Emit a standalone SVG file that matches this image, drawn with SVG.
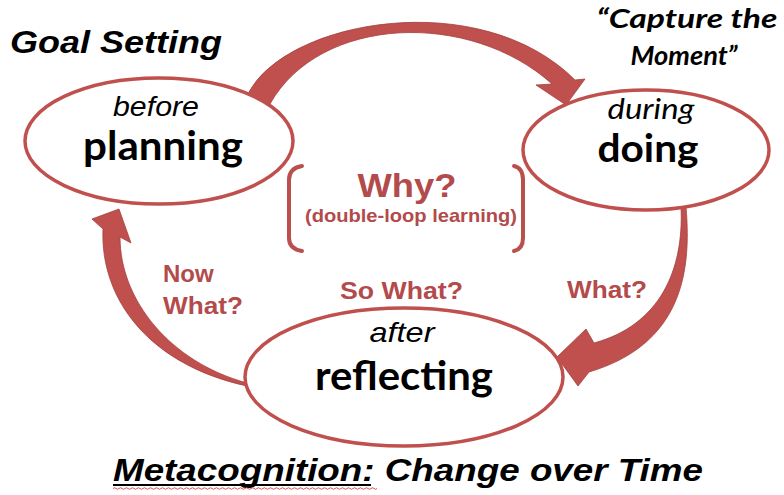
<svg xmlns="http://www.w3.org/2000/svg" width="784" height="495" viewBox="0 0 784 495">
  <style>
    .stage { fill: #ffffff; stroke: #c0504d; stroke-width: 3.5; }
    .arrow { fill: #c0504d; stroke: #a4403f; stroke-width: 0.8; stroke-linejoin: round; }
    .bracket { fill: none; stroke: #b9504e; stroke-width: 4; stroke-linecap: round; }
    .title { font-family: "Liberation Sans", Arial, sans-serif; font-weight: bold; font-style: italic; fill: #000; }
    .when { font-family: "Liberation Sans", Arial, sans-serif; font-style: italic; fill: #000; font-size: 28px; text-anchor: middle; }
    .when2 { font-family: Lato, "Noto Sans", sans-serif; font-style: italic; fill: #000; font-size: 28px; text-anchor: middle; }
    .act { font-family: Lato, "Noto Sans", sans-serif; font-weight: bold; fill: #000; text-anchor: middle; }
    .ask { font-family: "Liberation Sans", Arial, sans-serif; font-weight: bold; fill: #b34a4b; }
    .quote { font-family: Lato, "Noto Sans", sans-serif; font-weight: bold; font-style: italic; fill: #000; font-size: 26px; text-anchor: middle; }
  </style>

  <rect width="784" height="495" fill="#ffffff"/>

  <!-- connectors: curved block arrows between the three stages -->
  <g id="connectors">
    <!-- planning -> doing -->
    <path class="arrow" d="M 248 94 C 285 20, 480 -15, 575 80 L 585 79 L 566 105 L 536 85 L 552 84 C 470 10, 320 15, 270 104 Z"/>
    <!-- doing -> reflecting -->
    <path class="arrow" d="M 686 207 C 692 275, 680 345, 589 372 L 578 386 L 557 357 L 586 329 L 594 343 C 660 325, 684 270, 681 207 Z"/>
    <!-- reflecting -> planning -->
    <path class="arrow" d="M 247 386 C 150 365, 100 300, 103 229 L 92 219 L 119 209 L 131 243 L 120 237 C 120 300, 170 362, 247 383 Z"/>
  </g>

  <!-- stage nodes -->
  <g id="planning">
    <ellipse class="stage" cx="159" cy="141" rx="134" ry="63"/>
    <text class="when" x="156" y="116" textLength="86" lengthAdjust="spacingAndGlyphs">before</text>
    <text class="act" x="163" y="160" font-size="40" textLength="160" lengthAdjust="spacingAndGlyphs">planning</text>
  </g>

  <g id="doing">
    <ellipse class="stage" cx="646" cy="150" rx="123" ry="60"/>
    <text class="when2" x="651" y="119" textLength="87" lengthAdjust="spacingAndGlyphs">during</text>
    <text class="act" x="648" y="162" font-size="39" textLength="101" lengthAdjust="spacingAndGlyphs">doing</text>
  </g>

  <g id="reflecting">
    <ellipse class="stage" cx="404" cy="377" rx="159" ry="69"/>
    <text class="when" x="402" y="342" textLength="65" lengthAdjust="spacingAndGlyphs">after</text>
    <text class="act" x="404" y="390" font-size="40" textLength="178" lengthAdjust="spacingAndGlyphs">reflecting</text>
  </g>

  <!-- centre: double-loop question in brackets -->
  <g id="why">
    <path class="bracket" d="M 302 166 Q 289 168 289 180 L 289 238 Q 289 249 302 251"/>
    <path class="bracket" d="M 514 166 Q 523 168 523 180 L 523 238 Q 523 249 514 251"/>
    <text class="ask" x="407" y="197" font-size="34" text-anchor="middle" textLength="99" lengthAdjust="spacingAndGlyphs">Why?</text>
    <text class="ask" x="411" y="222" font-size="19" text-anchor="middle" textLength="212" lengthAdjust="spacingAndGlyphs">(double-loop learning)</text>
  </g>

  <!-- questions along the loop -->
  <g id="now-what">
    <text class="ask" x="163" y="282" font-size="24">Now</text>
    <text class="ask" x="163" y="314" font-size="24" textLength="80" lengthAdjust="spacingAndGlyphs">What?</text>
  </g>
  <g id="so-what">
    <text class="ask" x="340" y="299" font-size="24" textLength="123" lengthAdjust="spacingAndGlyphs">So What?</text>
  </g>
  <g id="what">
    <text class="ask" x="567" y="298" font-size="24" textLength="80" lengthAdjust="spacingAndGlyphs">What?</text>
  </g>

  <!-- captions -->
  <g id="goal-setting">
    <text class="title" x="10" y="53" font-size="32" textLength="212" lengthAdjust="spacingAndGlyphs">Goal Setting</text>
  </g>

  <g id="capture">
    <text class="quote" x="687" y="28" textLength="181" lengthAdjust="spacingAndGlyphs">“Capture the</text>
    <text class="quote" x="684" y="65" textLength="107" lengthAdjust="spacingAndGlyphs">Moment”</text>
  </g>

  <g id="metacognition">
    <text class="title" x="113" y="481" font-size="31" textLength="590" lengthAdjust="spacingAndGlyphs">Metacognition: Change over Time</text>
    <line x1="113" y1="485" x2="371" y2="485" stroke="#000" stroke-width="2"/>
    <path d="M 113 488.5 q 1.5 -1.5 3 0 t 3 0 t 3 0 t 3 0 t 3 0 t 3 0 t 3 0 t 3 0 t 3 0 t 3 0 t 3 0 t 3 0 t 3 0 t 3 0 t 3 0 t 3 0 t 3 0 t 3 0 t 3 0 t 3 0 t 3 0 t 3 0 t 3 0 t 3 0 t 3 0 t 3 0 t 3 0 t 3 0 t 3 0 t 3 0 t 3 0 t 3 0 t 3 0 t 3 0 t 3 0 t 3 0 t 3 0 t 3 0 t 3 0 t 3 0 t 3 0 t 3 0 t 3 0 t 3 0 t 3 0 t 3 0 t 3 0 t 3 0 t 3 0 t 3 0 t 3 0 t 3 0 t 3 0 t 3 0 t 3 0 t 3 0 t 3 0 t 3 0 t 3 0 t 3 0 t 3 0 t 3 0 t 3 0 t 3 0 t 3 0 t 3 0 t 3 0 t 3 0 t 3 0 t 3 0 t 3 0 t 3 0 t 3 0 t 3 0 t 3 0 t 3 0 t 3 0 t 3 0 t 3 0 t 3 0 t 3 0 t 3 0 t 3 0 t 3 0 t 3 0 t 3 0 t 3 0 t 3 0" fill="none" stroke="#d9534f" stroke-width="1"/>
  </g>
</svg>
